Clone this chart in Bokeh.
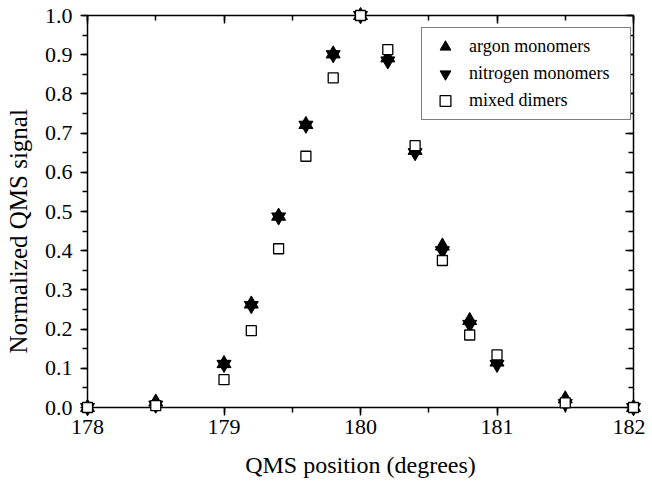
from bokeh.plotting import figure
from bokeh.models import (LinearAxis, Range1d, SingleIntervalTicker, NumeralTickFormatter,
                          CustomJSTickFormatter, Legend, LegendItem, Title)
from bokeh.embed import file_html
from bokeh.resources import INLINE

# Data
position = [178.0, 178.5, 179.0, 179.2, 179.4, 179.6, 179.8, 180.0, 180.2, 180.4, 180.6, 180.8, 181.0, 181.5, 182.0]
argon = [0.0, 0.014, 0.112, 0.264, 0.488, 0.722, 0.902, 1.0, 0.892, 0.656, 0.412, 0.222, 0.116, 0.022, 0.0]
nitrogen = [0.0, 0.006, 0.110, 0.260, 0.486, 0.720, 0.900, 1.0, 0.884, 0.650, 0.400, 0.212, 0.110, 0.010, 0.0]
dimers = [0.0, 0.005, 0.071, 0.196, 0.405, 0.641, 0.841, 1.0, 0.913, 0.668, 0.375, 0.185, 0.134, 0.012, 0.0]

series_labels = ["argon monomers", "nitrogen monomers", "mixed dimers"]
x_title = "QMS position (degrees)"
y_title = "Normalized QMS signal"

FONT = "Liberation Serif"

p = figure(width=645, height=485, output_backend="svg", toolbar_location=None,
           x_range=Range1d(178, 182), y_range=Range1d(0, 1.0),
           x_axis_location=None, y_axis_location=None,
           min_border_left=86, min_border_right=12, min_border_top=15, min_border_bottom=78)
p.outline_line_color = None
p.xgrid.visible = False
p.ygrid.visible = False
p.background_fill_color = "white"
p.border_fill_color = "white"

def style_axis(ax, inward, show_labels):
    ax.axis_line_color = "black"
    ax.axis_line_width = 1.5
    ax.major_tick_line_color = "black"
    ax.major_tick_line_width = 1.5
    ax.minor_tick_line_color = "black"
    ax.minor_tick_line_width = 1.5
    if inward:
        ax.major_tick_in = 8
        ax.major_tick_out = 0
        ax.minor_tick_in = 5
        ax.minor_tick_out = 0
    else:
        ax.major_tick_in = 0
        ax.major_tick_out = 8
        ax.minor_tick_in = 0
        ax.minor_tick_out = 5
    ax.major_label_text_font = FONT
    ax.major_label_text_color = "black"
    ax.axis_label_text_font = FONT
    ax.axis_label_text_font_style = "normal"
    ax.axis_label_text_color = "black"
    if not show_labels:
        ax.formatter = CustomJSTickFormatter(code="return ''")
        ax.major_label_text_font_size = "1px"
        ax.major_label_standoff = 0

xticker = lambda: SingleIntervalTicker(interval=1, num_minor_ticks=2)
yticker = lambda: SingleIntervalTicker(interval=0.1, num_minor_ticks=2)

bottom = LinearAxis(ticker=xticker(), formatter=NumeralTickFormatter(format="0"), axis_label=x_title)
style_axis(bottom, False, True)
bottom.major_label_text_font_size = "22px"
bottom.axis_label_text_font_size = "24px"
bottom.major_label_standoff = 4
bottom.axis_label_standoff = 15
p.add_layout(bottom, "below")

left = LinearAxis(ticker=yticker(), formatter=NumeralTickFormatter(format="0.0"), axis_label=" ")
style_axis(left, False, True)
left.major_tick_out = 7
left.major_label_text_font_size = "22px"
left.major_label_standoff = 8
left.axis_label_text_font_size = "1px"
left.axis_label_standoff = 4
p.add_layout(left, "left")

# y-axis title: sits below the frame centre, as in the reference
ytitle = Title(text=y_title, align="left", offset=54, standoff=4,
               text_font=FONT, text_font_size="25px", text_font_style="normal",
               text_color="black")
p.add_layout(ytitle, "left")

top = LinearAxis(ticker=xticker())
style_axis(top, True, False)
p.add_layout(top, "above")

right = LinearAxis(ticker=yticker())
style_axis(right, True, False)
p.add_layout(right, "right")

r_ar = p.scatter(position, argon, marker="triangle", size=14, fill_color="black",
                 line_color="black", line_width=1, level="overlay")
r_n2 = p.scatter(position, nitrogen, marker="inverted_triangle", size=14, fill_color="black",
                 line_color="black", line_width=1, level="overlay")
r_dm = p.scatter(position, dimers, marker="square", size=10, fill_color="white",
                 line_color="black", line_width=1.3, level="overlay")

legend = Legend(items=[LegendItem(label=series_labels[0], renderers=[r_ar]),
                       LegendItem(label=series_labels[1], renderers=[r_n2]),
                       LegendItem(label=series_labels[2], renderers=[r_dm])],
                location=(334, 287))
legend.label_text_font = FONT
legend.label_text_font_size = "18px"
legend.label_text_color = "black"
legend.glyph_width = 36
legend.glyph_height = 27
legend.label_height = 20
legend.spacing = 0
legend.padding = 5
legend.label_standoff = 6
legend.label_width = 156
legend.border_line_color = "black"
legend.border_line_width = 1
legend.background_fill_color = "white"
legend.background_fill_alpha = 1
legend.margin = 0
p.add_layout(legend, "center")

open("out.html", "w").write(file_html(p, INLINE))
